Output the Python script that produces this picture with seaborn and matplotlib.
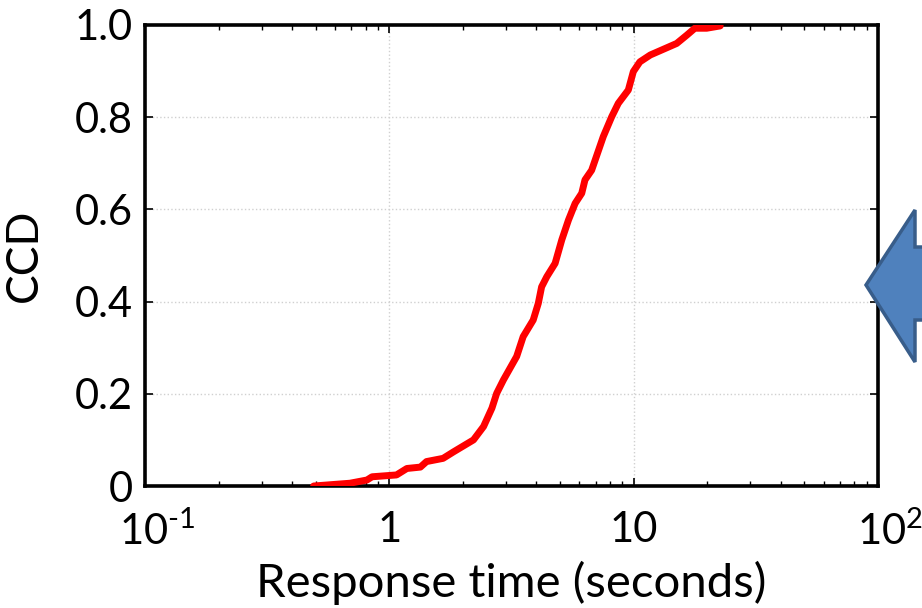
import numpy as np
import pandas as pd
import matplotlib
matplotlib.use("Agg")
import matplotlib.pyplot as plt
import matplotlib.transforms as mtransforms
import seaborn as sns
from matplotlib.patches import Polygon
from matplotlib.ticker import FixedLocator, LogLocator, NullFormatter

# ---- data ----
response_time = [0.49, 0.55, 0.69, 0.81, 0.85, 1.07, 1.18, 1.34, 1.42, 1.66, 1.83,
                 2.21, 2.43, 2.63, 2.75, 2.93, 3.32, 3.53, 3.88, 4.07, 4.20, 4.41,
                 4.77, 5.08, 5.41, 5.76, 6.13, 6.32, 6.73, 7.51, 8.13, 8.65, 9.51,
                 9.97, 10.6, 11.7, 15.0, 16.5, 17.8, 19.9, 22.6]
ccd = [0.000, 0.002, 0.006, 0.013, 0.020, 0.024, 0.038, 0.041, 0.053, 0.060, 0.074,
       0.100, 0.129, 0.169, 0.201, 0.230, 0.281, 0.324, 0.360, 0.396, 0.432, 0.454,
       0.483, 0.534, 0.577, 0.613, 0.635, 0.664, 0.685, 0.758, 0.801, 0.830, 0.859,
       0.899, 0.920, 0.935, 0.960, 0.978, 0.993, 0.993, 0.998]
x_ticks = [0.1, 1, 10, 100]
x_tick_labels = ["10$^{\u2010 1}$", "1", "10", "10$^{2}$"]
y_ticks = [0, 0.2, 0.4, 0.6, 0.8, 1.0]
y_tick_labels = ["0", "0.2", "0.4", "0.6", "0.8", "1.0"]

df = pd.DataFrame({"Response time (seconds)": response_time, "CCD": ccd})

sns.set_theme(style="white")
plt.rcParams["font.family"] = ["Lato", "DejaVu Sans"]
plt.rcParams["mathtext.fontset"] = "custom"
plt.rcParams["mathtext.rm"] = "Lato"
plt.rcParams["mathtext.it"] = "Lato"

fig = plt.figure(figsize=(9.22, 6.08), dpi=100)
ax = fig.add_axes([145 / 922, 1 - 486 / 608, (878 - 145) / 922, (486 - 25) / 608])

sns.lineplot(data=df, x="Response time (seconds)", y="CCD", ax=ax,
             color="#ff0000", linewidth=5, estimator=None, sort=False, zorder=3)

ax.set_xscale("log")
ax.set_xlim(0.1, 100)
ax.set_ylim(0, 1)
ax.xaxis.set_major_locator(FixedLocator(x_ticks))
ax.set_xticklabels(x_tick_labels)
ax.xaxis.set_minor_locator(LogLocator(base=10, subs=np.arange(2, 10)))
ax.xaxis.set_minor_formatter(NullFormatter())
ax.set_yticks(y_ticks)
ax.set_yticklabels(y_tick_labels)

ax.grid(True, which="major", color="#d0d0d0", linestyle=":", linewidth=1)
for s in ax.spines.values():
    s.set_visible(True)
    s.set_color("black")
    s.set_linewidth(2.6)

ax.tick_params(which="both", direction="in", top=True, right=True,
               bottom=True, left=True, colors="black")
ax.tick_params(which="major", length=6, width=1.2, labelsize=30)
ax.tick_params(which="minor", length=3.5, width=1)
ax.tick_params(axis="x", pad=18)
ax.tick_params(axis="y", pad=9)

ax.set_xlabel("Response time (seconds)", fontsize=34, color="black", labelpad=6)
ax.set_ylabel("CCD", fontsize=32, color="black")
ax.yaxis.set_label_coords(-0.137, 0.5)

# centre the base "10" of the power labels on their ticks, as in the reference
shift = mtransforms.ScaledTranslation(12 / 100, 0, fig.dpi_scale_trans)
xlabels = ax.get_xticklabels()
for i in (0, 3):
    xlabels[i].set_transform(xlabels[i].get_transform() + shift)

# decorative arrow partially visible at the right edge
W, H = 922, 608
pts_px = [(866, 285), (915, 210), (915, 247), (940, 247), (940, 320), (915, 320), (915, 362)]
pts = [(x / W, 1 - y / H) for x, y in pts_px]
fig.patches.append(Polygon(pts, closed=True, transform=fig.transFigure,
                           facecolor="#4f81bd", edgecolor="#385d8a", linewidth=2.5,
                           zorder=5))

fig.savefig("out.png", dpi=100)
